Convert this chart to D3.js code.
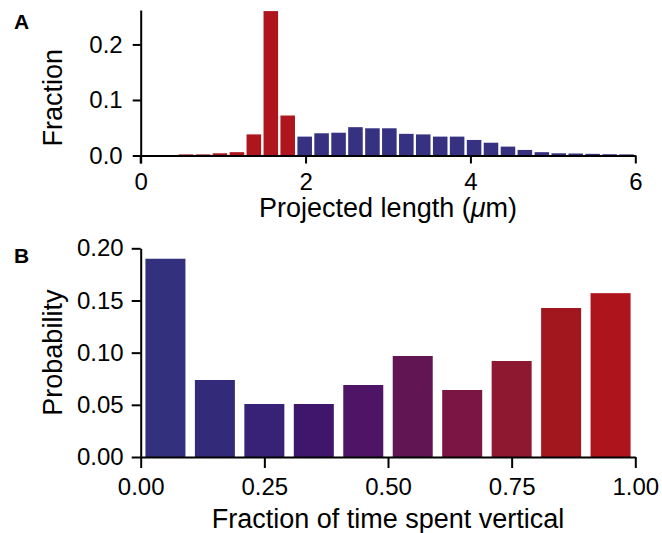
<!DOCTYPE html>
<html>
<head>
<meta charset="utf-8">
<script src="https://cdn.jsdelivr.net/npm/d3@7"></script>
<style>
  body { margin: 0; background: #fff; }
  svg { display: block; font-family: "Liberation Sans", Arial, Helvetica, sans-serif; }
  .axis path, .axis line { stroke: #000; stroke-width: 2; }
  .axis text { font-size: 24px; fill: #000; }
  .title { font-size: 27px; fill: #000; }
  .panel { font-size: 21px; font-weight: bold; fill: #000; }
</style>
</head>
<body>
<div id="wrapper"></div>
<script>
// panel A: projected length histogram (bin start, um)
const lengthBinStart = [0.45, 0.656, 0.861, 1.067, 1.272, 1.478, 1.683,
  1.889, 2.094, 2.300, 2.505, 2.711, 2.916, 3.122, 3.327, 3.533, 3.738,
  3.944, 4.149, 4.355, 4.560, 4.766, 4.971, 5.177, 5.382, 5.588, 5.793]
const lengthBinWidth = 0.2055
const lengthFraction = [0.002, 0.002, 0.004, 0.006, 0.038, 0.26, 0.072,
  0.034, 0.040, 0.041, 0.051, 0.049, 0.049, 0.039, 0.038, 0.034, 0.034,
  0.028, 0.023, 0.016, 0.010, 0.006, 0.004, 0.0036, 0.003, 0.0023, 0.002]
// first 7 bins are the short (vertical) ones
const lengthGroup = ["v", "v", "v", "v", "v", "v", "v",
  "h", "h", "h", "h", "h", "h", "h", "h", "h", "h",
  "h", "h", "h", "h", "h", "h", "h", "h", "h", "h"]
const lengthXTicks = [0, 2, 4, 6]
const lengthYTicks = [0, 0.1, 0.2]

// panel B: fraction of time spent vertical
const verticalBinStart = [0, 0.1, 0.2, 0.3, 0.4, 0.5, 0.6, 0.7, 0.8, 0.9]
const verticalProb = [0.190, 0.0738, 0.0508, 0.0508, 0.069, 0.0968, 0.0642, 0.092, 0.1428, 0.157]
const verticalColors = ["#33307e", "#332a7a", "#382277", "#3e166c", "#4e1465",
  "#611553", "#7b1543", "#8e1830", "#a1171d", "#ad141c"]
const verticalXTicks = [0, 0.25, 0.5, 0.75, 1]
const verticalYTicks = [0, 0.05, 0.1, 0.15, 0.2]

const groupColor = { v: "#ae151c", h: "#363180" }

const width = 662
const height = 533

const svg = d3.select("#wrapper")
  .append("svg")
    .attr("width", width)
    .attr("height", height)

// ---------- panel A ----------
const xA = d3.scaleLinear().domain([0, 6]).range([140.7, 635.3])
const yA = d3.scaleLinear().domain([0, 0.262]).range([155.5, 10])

const gA = svg.append("g")

gA.selectAll("rect")
  .data(lengthFraction)
  .join("rect")
    .attr("x", (d, i) => xA(lengthBinStart[i]) + 1)
    .attr("width", (d, i) => xA(lengthBinStart[i] + lengthBinWidth) - xA(lengthBinStart[i]) - 2.4)
    .attr("y", d => yA(d))
    .attr("height", d => yA(0) - yA(d))
    .attr("fill", (d, i) => groupColor[lengthGroup[i]])

gA.append("g")
    .attr("class", "axis")
    .attr("transform", `translate(0,${yA(0)})`)
    .call(d3.axisBottom(xA).tickValues(lengthXTicks).tickFormat(d3.format("d"))
      .tickSize(8).tickSizeOuter(0).tickPadding(9))

gA.append("g")
    .attr("class", "axis")
    .attr("transform", `translate(${xA(0)},0)`)
    .call(d3.axisLeft(yA).tickValues(lengthYTicks).tickFormat(d3.format(".1f"))
      .tickSize(8).tickSizeOuter(0).tickPadding(10))

// extend y axis down to tick length
gA.append("line")
    .attr("x1", xA(0)).attr("x2", xA(0))
    .attr("y1", yA(0)).attr("y2", yA(0) + 8)
    .attr("stroke", "#000").attr("stroke-width", 2)

const titleA = gA.append("text")
    .attr("class", "title")
    .attr("x", (xA(0) + xA(6)) / 2)
    .attr("y", 217)
    .attr("text-anchor", "middle")
titleA.append("tspan").text("Projected length (")
titleA.append("tspan").attr("font-style", "italic").text("\u03bc")
titleA.append("tspan").text("m)")

gA.append("text")
    .attr("class", "title")
    .attr("transform", `translate(62,${(yA(0) + yA(0.262)) / 2 + 15}) rotate(-90)`)
    .attr("text-anchor", "middle")
    .text("Fraction")

svg.append("text")
    .attr("class", "panel")
    .attr("x", 14)
    .attr("y", 29)
    .text("A")

// ---------- panel B ----------
const xB = d3.scaleLinear().domain([0, 1]).range([140.7, 635.3])
const yB = d3.scaleLinear().domain([0, 0.2]).range([457, 248.3])

const gB = svg.append("g")

gB.selectAll("rect")
  .data(verticalProb)
  .join("rect")
    .attr("x", (d, i) => xB(verticalBinStart[i] + 0.05) - 20)
    .attr("width", 40)
    .attr("y", d => yB(d))
    .attr("height", d => yB(0) - yB(d))
    .attr("fill", (d, i) => verticalColors[i])

gB.append("g")
    .attr("class", "axis")
    .attr("transform", `translate(0,${yB(0)})`)
    .call(d3.axisBottom(xB).tickValues(verticalXTicks).tickFormat(d3.format(".2f"))
      .tickSize(11).tickSizeOuter(0).tickPadding(10))

gB.append("g")
    .attr("class", "axis")
    .attr("transform", `translate(${xB(0)},0)`)
    .call(d3.axisLeft(yB).tickValues(verticalYTicks).tickFormat(d3.format(".2f"))
      .tickSize(9).tickSizeOuter(0).tickPadding(8))

gB.append("text")
    .attr("class", "title")
    .attr("x", (xB(0) + xB(1)) / 2)
    .attr("y", 528)
    .attr("text-anchor", "middle")
    .text("Fraction of time spent vertical")

gB.append("text")
    .attr("class", "title")
    .attr("transform", `translate(62,${(yB(0) + yB(0.2)) / 2}) rotate(-90)`)
    .attr("text-anchor", "middle")
    .text("Probability")

svg.append("text")
    .attr("class", "panel")
    .attr("x", 14)
    .attr("y", 263)
    .text("B")
</script>
</body>
</html>
